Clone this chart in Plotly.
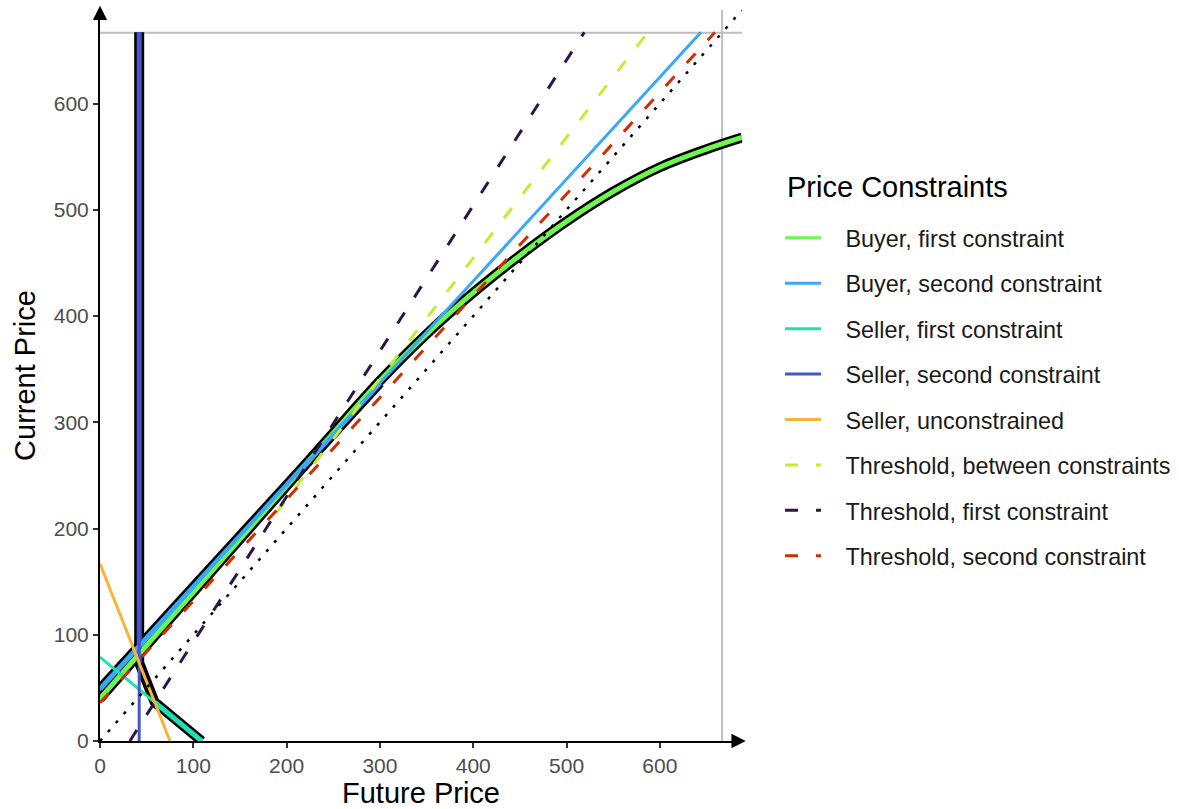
import plotly.graph_objects as go

# ---------------- data ----------------
axis_max = 688
ref_level = 666.67          # grey reference lines (x and y)
ticks = [0, 100, 200, 300, 400, 500, 600]

# Buyer, first constraint (curve)
bf_x = [0, 100, 200, 250, 300, 350, 400, 450, 500, 550, 600, 650, 688]
bf_y = [40, 140, 240, 290, 339, 383, 422, 457, 489, 517, 540, 557, 568]
# Buyer, second constraint
bs_x = [0, 644]
bs_y = [49, 667]
bs_out_x = [0, 300]          # outlined part
bs_out_y = [49, 337]
# Seller, first constraint
sf_x = [0, 109]
sf_y = [79, 0]
# Seller, second constraint
ss_x = [42, 42]
ss_y = [0, 667]
# Seller, unconstrained
su_x = [0, 75]
su_y = [167, 0]
# Seller boundary (outlined path): vertical -> unconstrained -> first constraint
so_x = [42, 42, 58.6, 109]
so_y = [667, 73.5, 36.5, 0]
# Thresholds
tb_x = [189, 587]
tb_y = [215, 667]
tf_x = [32, 519]
tf_y = [0, 667]
ts_x = [0, 659]
ts_y = [36, 667]
# 45-degree line
diag = [0, axis_max]

legend_title = "Price Constraints"
names = ["Buyer, first constraint", "Buyer, second constraint",
         "Seller, first constraint", "Seller, second constraint",
         "Seller, unconstrained", "Threshold, between constraints",
         "Threshold, first constraint", "Threshold, second constraint"]
colors = ["#6CF84F", "#38A8F7", "#1CE2B2", "#4457C9", "#FAB339",
          "#C6EB31", "#2E1548", "#CF2E05"]

FONT = "Liberation Sans, Arial, Helvetica, sans-serif"
PAD = "\u00a0\u00a0\u00a0"
fig = go.Figure()

def add(x, y, color, width, dash=None, name=None, show=False, group=None, shape="linear"):
    fig.add_trace(go.Scatter(
        x=x, y=y, mode="lines", name=name, showlegend=show,
        legendgroup=group,
        line=dict(color=color, width=width, dash=dash, shape=shape, smoothing=1.0),
        hoverinfo="skip"))

# black outlines (beneath)
add(bf_x, bf_y, "black", 10, shape="spline")
add(bs_out_x, bs_out_y, "black", 10)
add(so_x, so_y, "black", 10)
# thick coloured cores of outlined parts
add(bf_x, bf_y, colors[0], 5, shape="spline")
add(bs_out_x, bs_out_y, colors[1], 5)
add([so_x[0], so_x[1]], [so_y[0], so_y[1]], colors[3], 5)
add([so_x[2], so_x[3]], [so_y[2], so_y[3]], colors[2], 5)

# legend traces
add(bf_x, bf_y, colors[0], 3, name=PAD + names[0], show=True, group="g0", shape="spline")
add(bs_x, bs_y, colors[1], 3, name=PAD + names[1], show=True, group="g1")
add(sf_x, sf_y, colors[2], 3, name=PAD + names[2], show=True, group="g2")
add(ss_x, ss_y, colors[3], 3, name=PAD + names[3], show=True, group="g3")
add(su_x, su_y, colors[4], 3, name=PAD + names[4], show=True, group="g4")
dash = "13px,18px"
add(tb_x, tb_y, colors[5], 3, dash=dash, name=PAD + names[5], show=True, group="g5")
add(tf_x, tf_y, colors[6], 3, dash=dash, name=PAD + names[6], show=True, group="g6")
add(ts_x, ts_y, colors[7], 3, dash=dash, name=PAD + names[7], show=True, group="g7")
# 45-degree dotted line
add(diag, diag, "black", 2.5, dash="3px,9px")

# grey reference lines
fig.add_shape(type="line", xref="x", yref="y", x0=0, x1=axis_max,
              y0=ref_level, y1=ref_level, layer="below",
              line=dict(color="#BEBEBE", width=2))
fig.add_shape(type="line", xref="x", yref="y", x0=ref_level, x1=ref_level,
              y0=0, y1=axis_max, layer="below",
              line=dict(color="#BEBEBE", width=2))

# axis arrows
fig.add_annotation(x=axis_max + 4, y=0, ax=axis_max - 6, ay=0, xref="x", yref="y",
                   axref="x", ayref="y", text="", showarrow=True,
                   arrowhead=2, arrowsize=1.3, arrowwidth=2.2, arrowcolor="black")
fig.add_annotation(x=0, y=axis_max + 4, ax=0, ay=axis_max - 6, xref="x", yref="y",
                   axref="x", ayref="y", text="", showarrow=True,
                   arrowhead=2, arrowsize=1.3, arrowwidth=2.2, arrowcolor="black")

# legend title
fig.add_annotation(text=legend_title, xref="paper", yref="paper",
                   x=1.067, y=0.758, xanchor="left", yanchor="middle",
                   showarrow=False, font=dict(family=FONT, size=29, color="black"))

axis_common = dict(
    range=[0, axis_max], tickvals=ticks, showgrid=False, zeroline=False,
    showline=True, linecolor="black", linewidth=2,
    ticks="outside", ticklen=5, tickwidth=1.5, tickcolor="#333333",
    tickfont=dict(family=FONT, size=21, color="#4D4D4D"),
    automargin=False,
)
fig.update_xaxes(**axis_common,
                 title=dict(text="Future Price", standoff=8,
                            font=dict(family=FONT, size=29, color="black")))
fig.update_yaxes(**axis_common,
                 title=dict(text="Current Price", standoff=10,
                            font=dict(family=FONT, size=29, color="black")))

fig.update_layout(
    width=1179, height=809,
    margin=dict(l=100, r=437, t=10, b=68),
    plot_bgcolor="white", paper_bgcolor="white",
    font=dict(family=FONT, color="black"),
    legend=dict(
        font=dict(family=FONT, size=23.4, color="#1A1A1A"),
        xref="container", x=780 / 1179, xanchor="left",
        yref="paper", y=0.718, yanchor="top",
        tracegroupgap=12, itemwidth=36, bgcolor="rgba(0,0,0,0)",
    ),
    showlegend=True,
)

fig.write_html("out.html")
